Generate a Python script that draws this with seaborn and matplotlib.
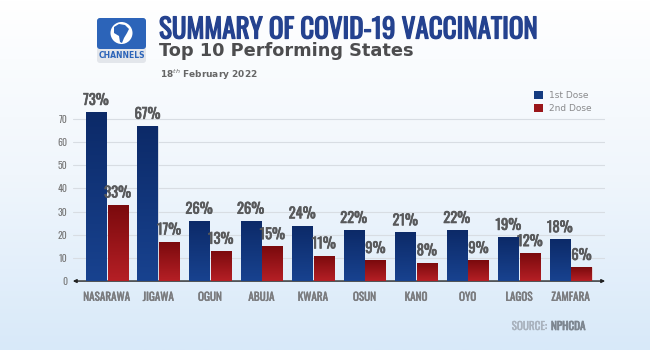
import numpy as np
import pandas as pd
import matplotlib.pyplot as plt
import matplotlib.patheffects as pe
import seaborn as sns
from matplotlib.colors import LinearSegmentedColormap
from matplotlib.patches import FancyBboxPatch, Circle, Polygon

states = ['NASARAWA', 'JIGAWA', 'OGUN', 'ABUJA', 'KWARA',
          'OSUN', 'KANO', 'OYO', 'LAGOS', 'ZAMFARA']
dose1 = [73, 67, 26, 26, 24, 22, 21, 22, 19, 18]
dose2 = [33, 17, 13, 15, 11, 9, 8, 9, 12, 6]
y_ticks = [0, 10, 20, 30, 40, 50, 60, 70]

df = pd.DataFrame({'state': states * 2,
                   'value': dose1 + dose2,
                   'dose': ['1st Dose'] * len(states) + ['2nd Dose'] * len(states)})

sns.set_style('white')
cond = ['Oswald', 'Roboto Condensed', 'DejaVu Sans']
plt.rcParams['font.family'] = ['DejaVu Sans']


def bold(lw, color):
    return [pe.withStroke(linewidth=lw, foreground=color)]


fig = plt.figure(figsize=(6.5, 3.5), dpi=100)

# background gradient + header, in pixel coords
bg = fig.add_axes([0, 0, 1, 1], zorder=0)
grad = np.linspace(0, 1, 256).reshape(-1, 1)
bgcmap = LinearSegmentedColormap.from_list('bg', ['#ffffff', '#f0f6fc', '#d8e9f9'])
bg.imshow(grad, aspect='auto', cmap=bgcmap, extent=[0, 650, 350, 0])
bg.set_xlim(0, 650)
bg.set_ylim(350, 0)
bg.axis('off')

# logo
bg.add_patch(FancyBboxPatch((97, 18), 49, 45, boxstyle='round,pad=0,rounding_size=3',
                            fc='#e3e6eb', ec='none'))
bg.add_patch(FancyBboxPatch((97, 18), 49, 31, boxstyle='round,pad=0,rounding_size=3',
                            fc='#2c64b9', ec='none'))
bg.add_patch(Circle((121.5, 33), 11, fc='white', ec='none'))
bg.add_patch(Polygon([(114, 27), (119, 24), (125, 25), (129, 29), (127, 33),
                      (124, 38), (122, 43), (120, 42), (119, 36), (114, 33)],
                     closed=True, fc='#2c64b9', ec='none'))
bg.text(121.5, 56, 'CHANNELS', color='#2c64b9', fontsize=5.5, fontweight='bold',
        ha='center', va='center')

# titles
bg.text(159, 30, 'SUMMARY OF COVID-19 VACCINATION', color='#24428f',
        fontsize=19.5, fontweight='bold', family=cond, ha='left', va='center',
        path_effects=bold(0.9, '#24428f'))
bg.text(159, 51, 'Top 10 Performing States', color='#4d4d4f',
        fontsize=12.8, fontweight='bold', ha='left', va='center')
bg.text(160, 75, '18$^{th}$ February 2022', color='#666666',
        fontsize=6.5, fontweight='bold', ha='left', va='center')

# source
bg.text(547, 326, 'SOURCE:', color='#a9b2bd', fontsize=8, family=cond,
        ha='right', va='center', path_effects=bold(0.25, '#a9b2bd'))
bg.text(551, 326, 'NPHCDA', color='#7d8690', fontsize=8, fontweight='bold',
        family=cond, ha='left', va='center', path_effects=bold(0.5, '#7d8690'))

# main chart
ax = fig.add_axes([0.112, 0.197, 0.819, 0.529], zorder=1)
ax.patch.set_alpha(0)
sns.barplot(data=df, x='state', y='value', hue='dose',
            palette=['#143b80', '#9a161a'], width=0.84, gap=0.07,
            saturation=1, ax=ax, zorder=3, edgecolor='#f4f4f4', linewidth=0.5)

# vertical gradient inside each bar
cmaps = [LinearSegmentedColormap.from_list('b', ['#18428f', '#0c2a68']),
         LinearSegmentedColormap.from_list('r', ['#b51f25', '#7a0a0d'])]
vert = np.linspace(0, 1, 100).reshape(-1, 1)
for cont, cm in zip(ax.containers, cmaps):
    for bar in cont:
        x0, w, h = bar.get_x(), bar.get_width(), bar.get_height()
        im = ax.imshow(vert, extent=[x0, x0 + w, 0, h], origin='lower',
                       cmap=cm, aspect='auto', zorder=3.5)
        im.set_clip_path(bar)

for cont in ax.containers:
    ax.bar_label(cont, labels=[f'{v:.0f}%' for v in cont.datavalues], padding=3,
                 color='#58595b', fontsize=10.5, fontweight='bold', family=cond,
                 path_effects=bold(0.45, '#58595b'), zorder=5)

ax.set_ylim(0, 80)
ax.set_xlim(-0.66, 9.67)
ax.set_yticks(y_ticks)
ax.set_yticklabels([str(t) for t in y_ticks], color='#777777', fontsize=7,
                   family=cond)
ax.tick_params(axis='x', length=0, pad=7)
ax.tick_params(axis='y', length=0, pad=4)
for lab in ax.get_xticklabels():
    lab.set_family(cond)
    lab.set_fontweight('bold')
    lab.set_color('#7a7b7e')
    lab.set_fontsize(8)
    lab.set_path_effects(bold(0.3, '#7a7b7e'))
ax.grid(axis='y', color='#d8dde3', linewidth=0.8, zorder=0)
ax.set_axisbelow(True)
for s in ['top', 'right', 'left', 'bottom']:
    ax.spines[s].set_visible(False)
ax.set_xlabel('')
ax.set_ylabel('')
ax.annotate('', xy=(1.0, 0), xytext=(0.0, 0), xycoords='axes fraction',
            arrowprops=dict(arrowstyle='<|-|>', color='#222222', lw=1,
                            mutation_scale=5, shrinkA=0, shrinkB=0))

leg = ax.legend(loc='upper right', bbox_to_anchor=(0.99, 1.07), frameon=False,
                fontsize=6.5, handlelength=1.0, handleheight=1.0, handletextpad=0.66,
                labelspacing=0.45)
for t in leg.get_texts():
    t.set_color('#8a8a8c')
for h in leg.legend_handles:
    h.set_edgecolor('none')

fig.savefig('out.png', dpi=100)
